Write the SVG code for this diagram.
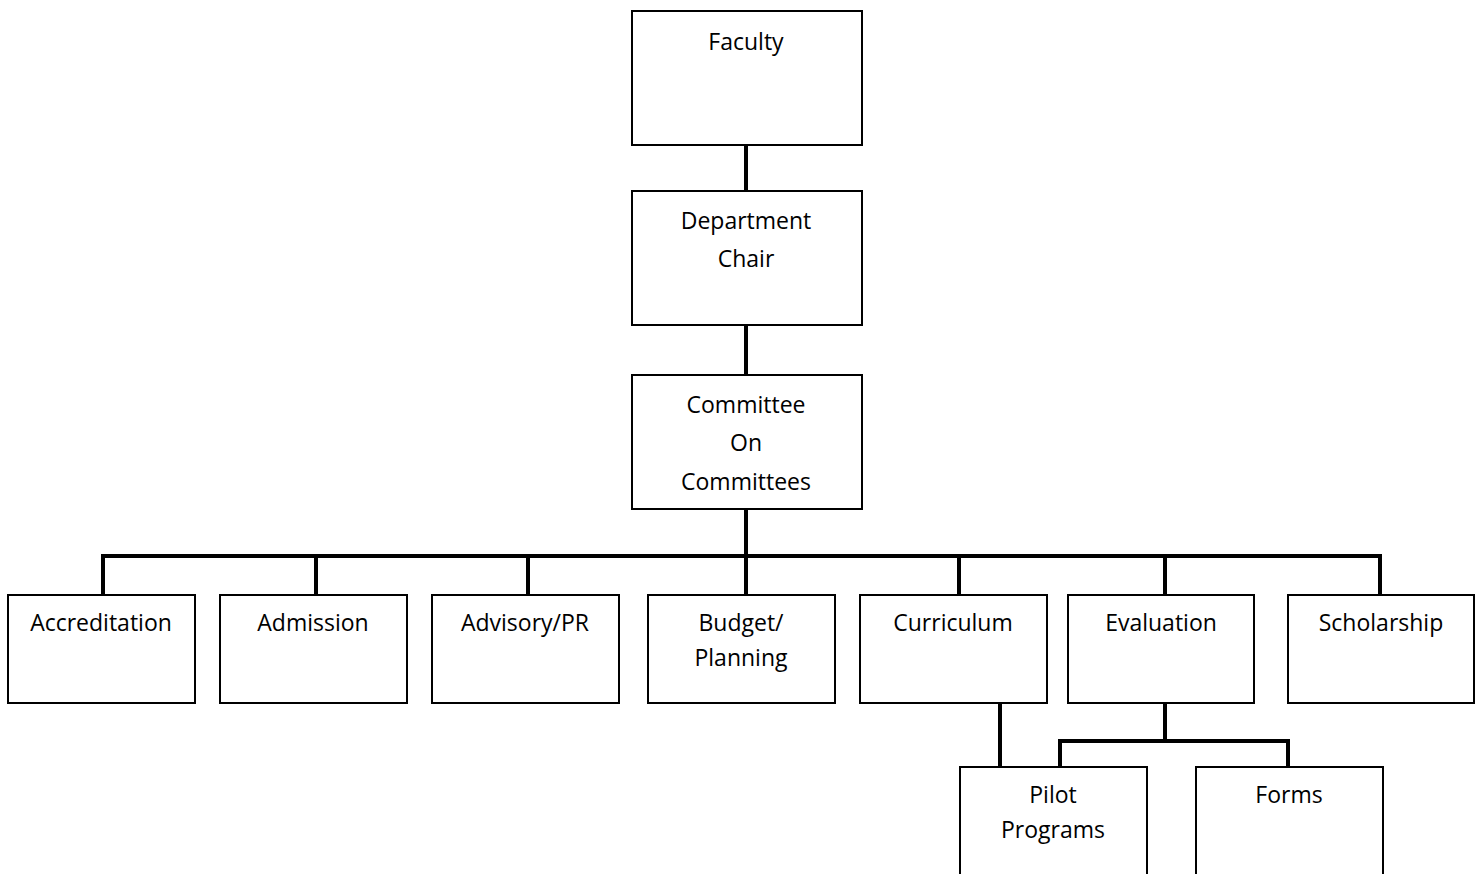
<svg xmlns="http://www.w3.org/2000/svg" width="1482" height="874" viewBox="0 0 1482 874">
<style>
.box{fill:#fff;stroke:#000;stroke-width:2}
.lbl{font-family:"Open Sans","Noto Sans","Liberation Sans",sans-serif;font-size:23px;fill:#000;text-anchor:middle}
.con{fill:none;stroke:#000;stroke-width:4}
</style>
<rect width="1482" height="874" fill="#fff"/>
<g id="connectors">
<path class="con" d="M746 145V191M746 325V375M746 509V556"/>
<path class="con" d="M103 556H1380M103 554V595M316 556V595M528 556V595M746 556V595M959 556V595M1165 556V595M1380 554V595"/>
<path class="con" d="M1000 703V767"/>
<path class="con" d="M1165 703V741M1060 741H1288M1060 739V767M1288 739V767"/>
</g>
<g id="faculty"><rect class="box" x="632" y="11" width="230" height="134"/><text class="lbl" x="746" y="50">Faculty</text></g>
<g id="chair"><rect class="box" x="632" y="191" width="230" height="134"/><text class="lbl" x="746" y="229">Department</text><text class="lbl" x="746" y="267">Chair</text></g>
<g id="coc"><rect class="box" x="632" y="375" width="230" height="134"/><text class="lbl" x="746" y="413">Committee</text><text class="lbl" x="746" y="451">On</text><text class="lbl" x="746" y="490">Committees</text></g>
<g id="accreditation"><rect class="box" x="8" y="595" width="187" height="108"/><text class="lbl" x="101" y="631">Accreditation</text></g>
<g id="admission"><rect class="box" x="220" y="595" width="187" height="108"/><text class="lbl" x="313" y="631">Admission</text></g>
<g id="advisory"><rect class="box" x="432" y="595" width="187" height="108"/><text class="lbl" x="525" y="631">Advisory/PR</text></g>
<g id="budget"><rect class="box" x="648" y="595" width="187" height="108"/><text class="lbl" x="741" y="631">Budget/</text><text class="lbl" x="741" y="666">Planning</text></g>
<g id="curriculum"><rect class="box" x="860" y="595" width="187" height="108"/><text class="lbl" x="953" y="631">Curriculum</text></g>
<g id="evaluation"><rect class="box" x="1068" y="595" width="186" height="108"/><text class="lbl" x="1161" y="631">Evaluation</text></g>
<g id="scholarship"><rect class="box" x="1288" y="595" width="186" height="108"/><text class="lbl" x="1381" y="631">Scholarship</text></g>
<g id="pilot"><rect class="box" x="960" y="767" width="187" height="120"/><text class="lbl" x="1053" y="803">Pilot</text><text class="lbl" x="1053" y="838">Programs</text></g>
<g id="forms"><rect class="box" x="1196" y="767" width="187" height="120"/><text class="lbl" x="1289" y="803">Forms</text></g>
</svg>
